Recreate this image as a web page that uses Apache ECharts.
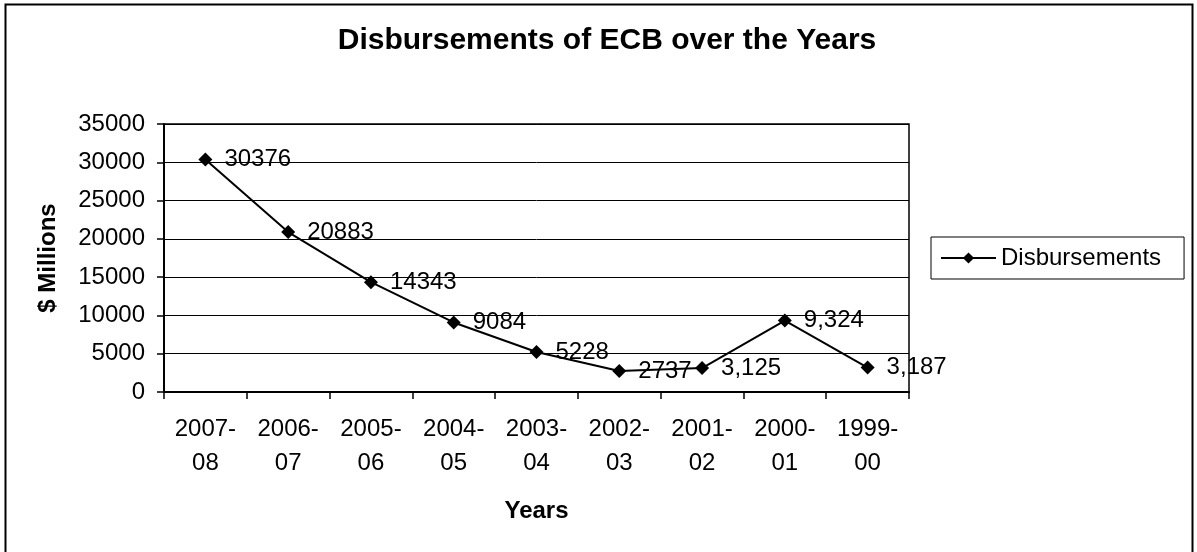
<!DOCTYPE html>
<html><head><meta charset="utf-8">
<script src="https://cdn.jsdelivr.net/npm/echarts@6/dist/echarts.min.js"></script>
<style>html,body{margin:0;padding:0;background:#fff}#c{width:1197px;height:552px}</style>
</head><body><div id="c"></div>
<script>
const categories = ["2007-08","2006-07","2005-06","2004-05","2003-04","2002-03","2001-02","2000-01","1999-00"];
const disbursements = [30376, 20883, 14343, 9084, 5228, 2737, 3125, 9324, 3187];
const valueLabels = ["30376","20883","14343","9084","5228","2737","3,125","9,324","3,187"];
const FONT = "Liberation Sans, Arial, sans-serif";
const chart = echarts.init(document.getElementById('c'), null, {renderer:'canvas'});
chart.setOption({
  animation:false,
  backgroundColor:'#fff',
  title:{text:'Disbursements of ECB over the Years', left:602, textAlign:'center', top:21,
    textStyle:{fontFamily:FONT, fontSize:30, fontWeight:'bold', color:'#000'}},
  graphic:[{type:'rect', shape:{x:5.5,y:4.5,width:1187,height:560}, style:{fill:'none', stroke:'#000', lineWidth:2}, silent:true}],
  legend:{left:931, top:237, padding:[9,23,9,9], itemGap:0, itemWidth:55, itemHeight:14,
    borderColor:'#000', borderWidth:1, borderRadius:0,
    textStyle:{fontFamily:FONT, fontSize:24, color:'#000'}},
  grid:{left:164, right:288, top:124, bottom:160, show:true, borderColor:'#000', borderWidth:1.5},
  xAxis:{type:'category', data:categories, boundaryGap:true,
    name:'Years', nameLocation:'middle', nameGap:107,
    nameTextStyle:{fontFamily:FONT, fontSize:24, fontWeight:'bold', color:'#000'},
    axisLine:{lineStyle:{color:'#000', width:2}},
    axisTick:{show:true, alignWithLabel:false, length:7, lineStyle:{color:'#000', width:1.5}},
    axisLabel:{interval:0, margin:20, lineHeight:34, fontFamily:FONT, fontSize:24, color:'#000',
      formatter:v=>v.replace('-', '-\n')}},
  yAxis:{type:'value', min:0, max:35000, interval:5000,
    name:'$ Millions', nameLocation:'middle', nameGap:104, nameRotate:90,
    nameTextStyle:{fontFamily:FONT, fontSize:24, fontWeight:'bold', color:'#000'},
    axisLine:{show:true, lineStyle:{color:'#000', width:2}},
    axisTick:{show:true, length:7, lineStyle:{color:'#000', width:1.5}},
    splitLine:{show:true, lineStyle:{color:'#000', width:1}},
    axisLabel:{margin:19, fontFamily:FONT, fontSize:24, color:'#000', formatter:v=>String(v)}},
  series:[{name:'Disbursements', type:'line', data:disbursements,
    symbol:'diamond', symbolSize:14,
    lineStyle:{color:'#000', width:2}, itemStyle:{color:'#000'},
    label:{show:true, position:'right', distance:12, fontFamily:FONT, fontSize:24, color:'#000',
      formatter:p=>valueLabels[p.dataIndex]}}]
});
</script></body></html>
